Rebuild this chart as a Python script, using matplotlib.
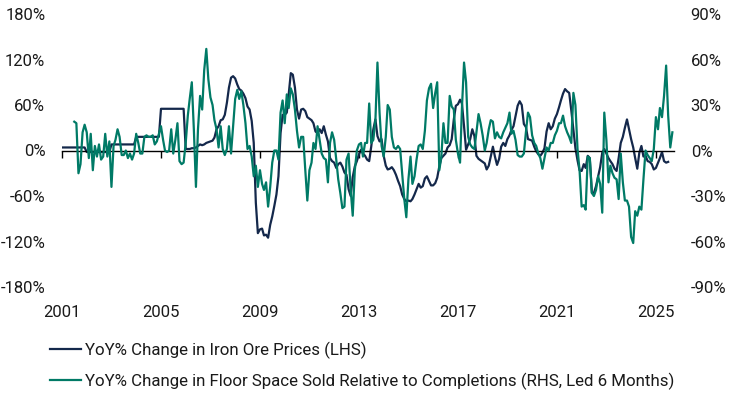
import numpy as np
import pandas as pd
import matplotlib
matplotlib.use("Agg")
import matplotlib.pyplot as plt
import matplotlib.dates as mdates
from matplotlib.ticker import FuncFormatter

plt.rcParams["font.family"] = ["Roboto", "DejaVu Sans"]

NAVY = "#14284b"
GREEN = "#007a66"
TXT = "#1a1a1a"

# YoY % change in iron ore prices (LHS), monthly from Jan 2001
iron_ore = [
    4, 4, 4, 4, 4, 4, 4, 4, 4, 4, 4, 4,                          # 2001
    -2, -2, -2, -2, -2, -2, -2, -2, -2, -2, -2, -2,              # 2002
    8, 8, 8, 8, 8, 8, 8, 8, 8, 8, 8, 8,                          # 2003
    18, 18, 18, 18, 18, 18, 18, 18, 18, 18, 18, 18,              # 2004
    55, 55, 55, 55, 55, 55, 55, 55, 55, 55, 55, 55,              # 2005
    2, 2, 2, 3, 3, 4, 6, 8, 7, 8, 10, 11,                        # 2006
    12, 13, 17, 28, 32, 40, 41, 47, 63, 83, 96, 98,              # 2007
    95, 87, 81, 79, 75, 69, 58, 54, 39, 10, -69, -109,           # 2008
    -104, -103, -112, -111, -115, -98, -87, -73, -58, -34, 23, 47,  # 2009
    47, 50, 74, 102, 100, 83, 54, 42, 54, 55, 52, 44,            # 2010
    42, 40, 36, 25, 23, 28, 23, 32, 21, 12, -10, -14,            # 2011
    -16, -23, -18, -16, -21, -29, -32, -51, -60, -35, -21, -14,  # 2012
    -5, 1, -4, -7, -12, -14, 5, 28, 41, 19, 12, 15,              # 2013
    -7, -20, -25, -24, -22, -26, -32, -40, -47, -58, -64, -67,   # 2014
    -66, -67, -64, -58, -51, -44, -49, -47, -37, -34, -40, -46,  # 2015
    -46, -43, -36, -21, -10, -7, -4, 4, 7, 15, 41, 59,           # 2016
    61, 67, 62, 32, 1, 8, 15, 28, 19, -7, -11, -13,              # 2017
    -15, -17, -25, -20, -8, 5, -8, -19, -11, 5, 10, 6,           # 2018
    15, 20, 27, 32, 45, 59, 65, 60, 35, 31, 15, 14,              # 2019
    13, 5, -1, -5, -7, -3, 3, 25, 36, 28, 32, 42,                # 2020
    48, 57, 66, 75, 81, 78, 76, 53, 28, 3, -13, -26,             # 2021
    -27, -18, -23, -7, -10, -56, -56, -47, -34, -22, -3, 2,      # 2022
    -4, -10, -14, -18, -24, -27, -10, 10, 18, 30, 41, 28,        # 2023
    15, 4, -10, -24, -3, 6, -8, -7, -14, -15, -18, -25,          # 2024
    -23, -16, -10, -2, -14, -16, -15,                            # 2025
]

# YoY % change in floor space sold relative to completions (RHS, led 6 months), from Jul 2001
floor_space = [
    19, 18, -15, -9, 12, 17,                                     # 2001 H2
    12, -5, 11, -13, 3, -4, 4, -6, -4, 11, -4, 6,                # 2002
    -24, 3, 7, 14, 9, -3, -3, 0, -5, -2, -6, -2,                 # 2003
    11, 5, -2, -2, 9, 10, 9, 9, 10, 4, 6, 11,                    # 2004
    16, 7, 0, -1, 0, 14, -2, 7, 18, -7, -9, -8,                  # 2005
    5, 23, 34, 45, 14, -24, 14, 36, 27, 53, 67, 47,              # 2006
    35, 30, 20, 14, 2, 16, 1, -3, 1, 16, -2, 16,                 # 2007
    34, 40, 34, 39, 30, 18, 1, 3, -4, -17, -10, -24,             # 2008
    -13, -22, -26, -21, -37, -24, -8, 0, 0, -6, 25, 33,          # 2009
    18, 37, 28, 41, 37, 27, 13, 2, 9, 9, -13, -33,               # 2010
    -13, -8, 5, 1, 16, 7, -2, -5, -6, -21, 5, 12,                # 2011
    7, -6, -19, -28, -38, -37, -6, -2, -26, -43, -13, 0,         # 2012
    4, 5, -4, 5, 5, 31, 5, 7, 20, 58, 25, 3,                     # 2013
    -4, 9, 30, 27, 9, 2, 1, 3, 1, -15, -32, -44,                 # 2014
    -19, -4, -22, -17, -6, 3, 4, 1, 13, 33, 41, 44,              # 2015
    28, 38, 45, -13, -4, 18, 5, 5, 36, 29, 27, 7,                # 2016
    -2, -8, 28, 58, 45, 9, 4, 2, 1, 12, 24, 18,                  # 2017
    10, 0, 5, 14, 20, 19, 8, 12, 9, 8, 12, 15,                   # 2018
    18, 25, 11, 13, 7, -3, -4, -4, -2, 12, 25, 22,               # 2019
    10, 5, 3, -2, -5, -12, -5, 2, 0, 5, 5, 10,                   # 2020
    13, 18, 18, 23, 16, 12, 9, 5, 38, 30, 1, -13,                # 2021
    -37, -36, -39, -4, -5, -28, -30, -26, -17, -22, -41, 25,     # 2022
    7, -21, -10, -15, -18, -19, -32, -2, -21, -33, -33, -37,     # 2023
    -57, -61, -40, -43, -37, -39, -19, 0, -3, -5, -7, 1,         # 2024
    22, 14, 28, 22, 36, 56, 23, 2, 12,                           # 2025
]

iron_dates = pd.date_range("2001-01-01", periods=len(iron_ore), freq="MS")
floor_dates = pd.date_range("2001-07-01", periods=len(floor_space), freq="MS")

tick_years = [2001, 2005, 2009, 2013, 2017, 2021, 2025]
lhs_ticks = [-180, -120, -60, 0, 60, 120, 180]
rhs_ticks = [-90, -60, -30, 0, 30, 60, 90]

labels = ["YoY% Change in Iron Ore Prices (LHS)",
          "YoY% Change in Floor Space Sold Relative to Completions (RHS, Led 6 Months)"]

W, H = 732, 394
FS = 12
fig = plt.figure(figsize=(W / 100, H / 100), dpi=100)
ax = fig.add_axes([62 / W, 1 - 287 / H, 612 / W, 273 / H])
ax2 = ax.twinx()

l1, = ax.plot(iron_dates, iron_ore, color=NAVY, lw=1.6, solid_joinstyle="round")
l2, = ax2.plot(floor_dates, floor_space, color=GREEN, lw=1.6, solid_joinstyle="round")

ax.set_xlim(pd.Timestamp("2001-01-01"), pd.Timestamp("2025-09-25"))
ax.set_ylim(-180, 180)
ax2.set_ylim(-90, 90)

pct = FuncFormatter(lambda v, _: f"{v:.0f}%")
ax.set_yticks(lhs_ticks)
ax.yaxis.set_major_formatter(pct)
ax2.set_yticks(rhs_ticks)
ax2.yaxis.set_major_formatter(pct)
ax.tick_params(axis="y", length=0, pad=12, labelsize=FS, labelcolor=TXT)
ax2.tick_params(axis="y", length=0, pad=12, labelsize=FS, labelcolor=TXT)

for a in (ax, ax2):
    for s in ("left", "right", "top"):
        a.spines[s].set_visible(False)
ax2.spines["bottom"].set_visible(False)

# zero line doubles as the x axis, ticks hang off it
ax.spines["bottom"].set_position(("data", 0))
ax.spines["bottom"].set_color("black")
ax.spines["bottom"].set_linewidth(1)
tick_pos = [mdates.date2num(pd.Timestamp(f"{y}-01-01")) for y in tick_years]
ax.set_xticks(tick_pos)
ax.tick_params(axis="x", length=5, width=1, color="black", labelbottom=False)

# year labels sit below the plot area
sec = ax.secondary_xaxis("bottom")
sec.set_xticks(tick_pos, labels=[str(y) for y in tick_years])
sec.tick_params(length=0, pad=13, labelsize=FS, labelcolor=TXT)
sec.spines["bottom"].set_visible(False)

fig.legend([l1, l2], labels, loc="upper left", bbox_to_anchor=(50 / W, 1 - 342 / H),
           frameon=False, fontsize=12.2, handlelength=1.8, handletextpad=0.25,
           labelspacing=0.8, borderpad=0, borderaxespad=0, labelcolor=TXT)

fig.savefig("out.png", dpi=100)
